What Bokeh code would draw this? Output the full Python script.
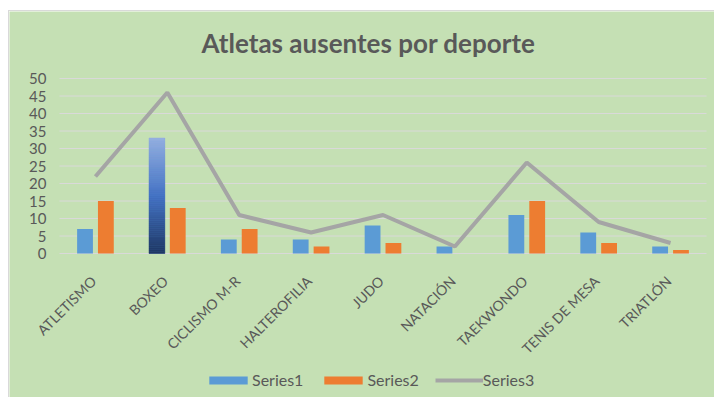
import numpy as np
from bokeh.plotting import figure
from bokeh.models import ColumnDataSource, Legend, LegendItem, Range1d
from bokeh.core.properties import value
from bokeh.transform import dodge
from bokeh.embed import file_html
from bokeh.resources import INLINE

title = "Atletas ausentes por deporte"
categories = ["ATLETISMO", "BOXEO", "CICLISMO M-R", "HALTEROFILIA", "JUDO",
              "NATACIÓN", "TAEKWONDO", "TENIS DE MESA", "TRIATLÓN"]
series1 = [7, 33, 4, 4, 8, 2, 11, 6, 2]
series2 = [15, 13, 7, 2, 3, 0, 15, 3, 1]
series3 = [22, 46, 11, 6, 11, 2, 26, 9, 3]
y_ticks = [0, 5, 10, 15, 20, 25, 30, 35, 40, 45, 50]
highlight = "BOXEO"

BG = "#C5E0B4"
TXT = "#595959"
FONT = "Lato"

# layout (pixels)
W, H = 706, 387
plot_left, plot_w = 50, 647          # category area inside the canvas
plot_top, plot_h = 67, 175           # value area inside the canvas
cat_px = plot_w / len(categories)
px_per_unit = plot_h / (y_ticks[-1] - y_ticks[0])
y_max = y_ticks[-1] + plot_top / px_per_unit
y_min = y_max - H / px_per_unit
x_start = -0.5 - plot_left / cat_px
x_end = x_start + W / cat_px
title_cx, title_base = 359, 31

def px_to_x(px):
    return x_start + px / cat_px

def px_to_y(py):
    return y_max - py / px_per_unit

xi = list(range(len(categories)))
src = ColumnDataSource(dict(x=xi, cat=categories, s1=series1, s2=series2, s3=series3))

p = figure(x_range=Range1d(x_start, x_end), y_range=Range1d(y_min, y_max),
           width=W, height=H, output_backend="svg", toolbar_location=None,
           min_border_left=0, min_border_right=0, min_border_top=0, min_border_bottom=0)
p.margin = (10, 0, 0, 8)
p.background_fill_color = BG
p.border_fill_color = BG
p.outline_line_color = None
p.styles = {"border-left": "1px solid #D9D9D9", "border-top": "1px solid #D9D9D9"}

p.xaxis.visible = False
p.yaxis.visible = False
p.xgrid.grid_line_color = None
p.ygrid.grid_line_color = None

# title
p.text(x=[px_to_x(title_cx)], y=[px_to_y(title_base)], text=[title],
       text_align="center", text_baseline="alphabetic",
       text_font=value(FONT), text_font_size="26px", text_font_style="bold", text_color=TXT)

# horizontal gridlines
p.segment(x0=-0.5, x1=len(categories) - 0.5, y0=y_ticks, y1=y_ticks,
          line_color="#D9D9D9", line_width=1)

bw = 0.22
r1 = p.vbar(x=dodge("x", -0.145), top="s1", bottom=0, width=bw, source=src,
            fill_color="#5B9BD5", line_color=None)
r2 = p.vbar(x=dodge("x", 0.145), top="s2", bottom=0, width=bw, source=src,
            fill_color="#ED7D31", line_color=None)

# gradient overlay on highlighted bar
hi = categories.index(highlight)
hv = series1[hi]
n = 60
stops = [(0.0, (0x1F, 0x38, 0x64)), (0.5, (0x44, 0x72, 0xC4)), (1.0, (0x95, 0xB0, 0xE0))]
def col(t):
    for (t0, c0), (t1, c1) in zip(stops[:-1], stops[1:]):
        if t0 <= t <= t1:
            f = (t - t0) / (t1 - t0)
            return "#%02x%02x%02x" % tuple(int(round(a + (b - a) * f)) for a, b in zip(c0, c1))
    return "#%02x%02x%02x" % stops[-1][1]
edges = np.linspace(0, hv, n + 1)
gsrc = ColumnDataSource(dict(x=[hi] * n, bottom=edges[:-1], top=edges[1:],
                             color=[col((i + 0.5) / n) for i in range(n)]))
p.vbar(x=dodge("x", -0.145), bottom="bottom", top="top", width=bw,
       source=gsrc, fill_color="color", line_color="color", line_width=0.5)

r3 = p.line(x="x", y="s3", source=src, line_color="#A5A5A5", line_width=4)

# category labels along the zero line
lsrc = ColumnDataSource(dict(x=xi, cat=categories, y=[0] * len(categories)))
p.text(x="x", y="y", text="cat", source=lsrc, angle=np.pi / 4,
       text_align="right", text_baseline="middle", x_offset=-2, y_offset=25,
       text_font=value(FONT), text_font_size="14px", text_color=TXT)

# y tick labels
tsrc = ColumnDataSource(dict(y=y_ticks, t=[str(v) for v in y_ticks], x=[-0.5] * len(y_ticks)))
p.text(x="x", y="y", text="t", source=tsrc, text_align="right", text_baseline="middle",
       x_offset=-13, text_font=value(FONT), text_font_size="15px", text_color=TXT)

legend = Legend(items=[LegendItem(label="Series1", renderers=[r1]),
                       LegendItem(label="Series2", renderers=[r2]),
                       LegendItem(label="Series3", renderers=[r3])],
                orientation="horizontal", location=(195, 9),
                background_fill_alpha=0, border_line_color=None,
                padding=0, margin=0, spacing=16,
                glyph_width=48, glyph_height=10, label_standoff=0,
                label_text_font=FONT, label_text_font_size="16px", label_text_color=TXT,
                label_height=16)
p.add_layout(legend, "center")

open("out.html", "w").write(file_html(p, INLINE))
